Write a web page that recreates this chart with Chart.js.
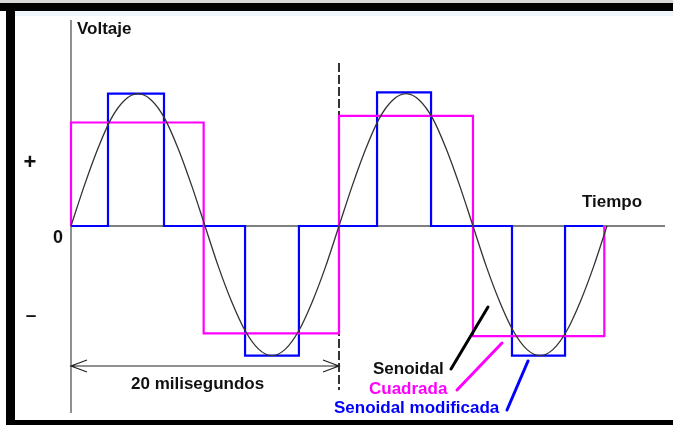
<!DOCTYPE html>
<html>
<head>
<meta charset="utf-8">
<script src="https://cdn.jsdelivr.net/npm/chart.js@4.4.1/dist/chart.umd.min.js"></script>
<style>
  html, body { margin: 0; padding: 0; background: #fff; }
  #wrap { width: 673px; height: 425px; position: relative; }
</style>
</head>
<body>
<div id="wrap"><canvas id="c" width="673" height="425"></canvas></div>
<script>
// ---- data (time in ms, voltage in units of sine peak) ----
const sineT = [0,1,2,3,4,5,6,7,8,9,10,11,12,13,14,15,16,17,18,19,20,21,22,23,24,25,26,27,28,29,30,31,32,33,34,35,36,37,38,39,40];
const sineV = [0,0.31,0.59,0.82,0.96,1.01,0.96,0.82,0.59,0.31,0,-0.31,-0.58,-0.80,-0.94,-0.99,-0.94,-0.80,-0.58,-0.31,0,0.31,0.59,0.82,0.96,1.01,0.96,0.82,0.59,0.31,0,-0.31,-0.58,-0.80,-0.94,-0.99,-0.94,-0.80,-0.58,-0.31,0];

const squareT = [0,0,9.9,9.9,20,20,30,30,39.8,39.8];
const squareV = [0,0.79,0.79,-0.82,-0.82,0.84,0.84,-0.84,-0.84,0];

const modT = [0,2.76,2.76,6.94,6.94,12.99,12.99,17.01,17.01,22.84,22.84,26.87,26.87,32.91,32.91,36.87,36.87,39.7];
const modV = [0,0,1.01,1.01,0,0,-0.99,-0.99,0,0,1.02,1.02,0,0,-0.99,-0.99,0,0];

const periodMs = 20;           // marked span "20 milisegundos"
const axisLabels = ['Voltaje', 'Tiempo'];
const levelLabels = ['+', '0', '\u2013'];
const seriesNames = ['Senoidal', 'Cuadrada', 'Senoidal modificada'];
const spanLabel = '20 milisegundos';

const X_MIN = 0, X_MAX = 44.33, Y_MIN = -1.4275, Y_MAX = 1.5725;

const pts = (xs, ys) => xs.map((x, i) => ({x: x, y: ys[i]}));

const FONT = 'bold 17px "Liberation Sans", Arial, sans-serif';

const framePlugin = {
  id: 'frame',
  beforeDraw(chart) {
    const ctx = chart.ctx;
    ctx.save();
    ctx.fillStyle = '#ffffff';
    ctx.fillRect(0, 0, 673, 425);
    ctx.fillStyle = '#d8d8d8';
    ctx.fillRect(0, 0, 673, 3);
    ctx.fillStyle = '#eef6fc';
    ctx.fillRect(15, 11, 658, 5);
    ctx.fillStyle = '#000000';
    ctx.fillRect(0, 3, 673, 8);     // top band
    ctx.fillRect(6, 3, 9, 422);     // left band
    ctx.fillRect(6, 420, 667, 5);   // bottom band
    ctx.restore();
  }
};

const annotPlugin = {
  id: 'annot',
  afterDatasetsDraw(chart) {
    const ctx = chart.ctx;
    const xs = chart.scales.x;
    ctx.save();
    // dimension line for one period
    const x0 = xs.getPixelForValue(0), x1 = xs.getPixelForValue(periodMs);
    const yd = 366;
    ctx.strokeStyle = '#222';
    ctx.lineWidth = 1.2;
    ctx.beginPath();
    ctx.moveTo(x0, yd); ctx.lineTo(x1, yd);
    ctx.moveTo(x0 + 16, yd - 6); ctx.lineTo(x0, yd); ctx.lineTo(x0 + 16, yd + 6);
    ctx.moveTo(x1 - 16, yd - 6); ctx.lineTo(x1, yd); ctx.lineTo(x1 - 16, yd + 6);
    ctx.stroke();

    // pointer strokes
    ctx.lineCap = 'round';
    ctx.lineWidth = 3;
    ctx.strokeStyle = '#000';
    ctx.beginPath(); ctx.moveTo(451, 369); ctx.lineTo(488, 307); ctx.stroke();
    ctx.strokeStyle = '#ff00ff';
    ctx.beginPath(); ctx.moveTo(457, 390); ctx.lineTo(502, 343); ctx.stroke();
    ctx.strokeStyle = '#0000ff';
    ctx.beginPath(); ctx.moveTo(507, 410); ctx.lineTo(528, 361); ctx.stroke();

    // texts
    ctx.font = FONT;
    ctx.textBaseline = 'alphabetic';
    ctx.textAlign = 'left';
    ctx.fillStyle = '#111';
    ctx.fillText(axisLabels[0], 77, 34);
    ctx.fillText(axisLabels[1], 582, 207);
    ctx.fillText(spanLabel, 131, 389);
    ctx.textAlign = 'center';
    ctx.font = 'bold 22px "Liberation Sans", Arial, sans-serif';
    ctx.fillText(levelLabels[0], 30, 169);
    ctx.font = 'bold 18px "Liberation Sans", Arial, sans-serif';
    ctx.fillText(levelLabels[1], 58, 243);
    ctx.font = 'bold 19px "Liberation Sans", Arial, sans-serif';
    ctx.fillText(levelLabels[2], 31, 321);
    ctx.font = FONT;
    ctx.textAlign = 'left';
    ctx.fillStyle = '#111';
    ctx.fillText(seriesNames[0], 373, 374);
    ctx.fillStyle = '#ff00ff';
    ctx.fillText(seriesNames[1], 369, 394);
    ctx.fillStyle = '#0000ff';
    ctx.fillText(seriesNames[2], 334, 413);
    ctx.restore();
  }
};

const common = { showLine: true, pointRadius: 0, pointHoverRadius: 0, clip: false, fill: false };

new Chart(document.getElementById('c'), {
  type: 'scatter',
  data: {
    datasets: [
      Object.assign({ label: seriesNames[0], data: pts(sineT, sineV), borderColor: '#333', borderWidth: 1.3, tension: 0.4, cubicInterpolationMode: 'monotone' }, common),
      Object.assign({ label: seriesNames[1], data: pts(squareT, squareV), borderColor: '#ff00ff', borderWidth: 2.2, tension: 0 }, common),
      Object.assign({ label: seriesNames[2], data: pts(modT, modV), borderColor: '#0000ff', borderWidth: 2.2, tension: 0 }, common),
      Object.assign({ label: 'marca', data: [{x: periodMs, y: 1.244}, {x: periodMs, y: -1.252}], borderColor: '#333', borderWidth: 2, borderDash: [9, 3] }, common),
      Object.assign({ label: 'eje x', data: [{x: X_MIN, y: 0}, {x: X_MAX, y: 0}], borderColor: '#555', borderWidth: 1.3 }, common),
      Object.assign({ label: 'eje y', data: [{x: X_MIN, y: Y_MAX}, {x: X_MIN, y: Y_MIN}], borderColor: '#555', borderWidth: 1.3 }, common)
    ]
  },
  options: {
    responsive: false,
    animation: false,
    devicePixelRatio: 1,
    layout: { padding: { left: 71, right: 8, top: 20, bottom: 12 } },
    scales: {
      x: { type: 'linear', min: X_MIN, max: X_MAX, display: false },
      y: { type: 'linear', min: Y_MIN, max: Y_MAX, display: false }
    },
    plugins: { legend: { display: false }, tooltip: { enabled: false } },
    events: []
  },
  plugins: [framePlugin, annotPlugin]
});
</script>
</body>
</html>
